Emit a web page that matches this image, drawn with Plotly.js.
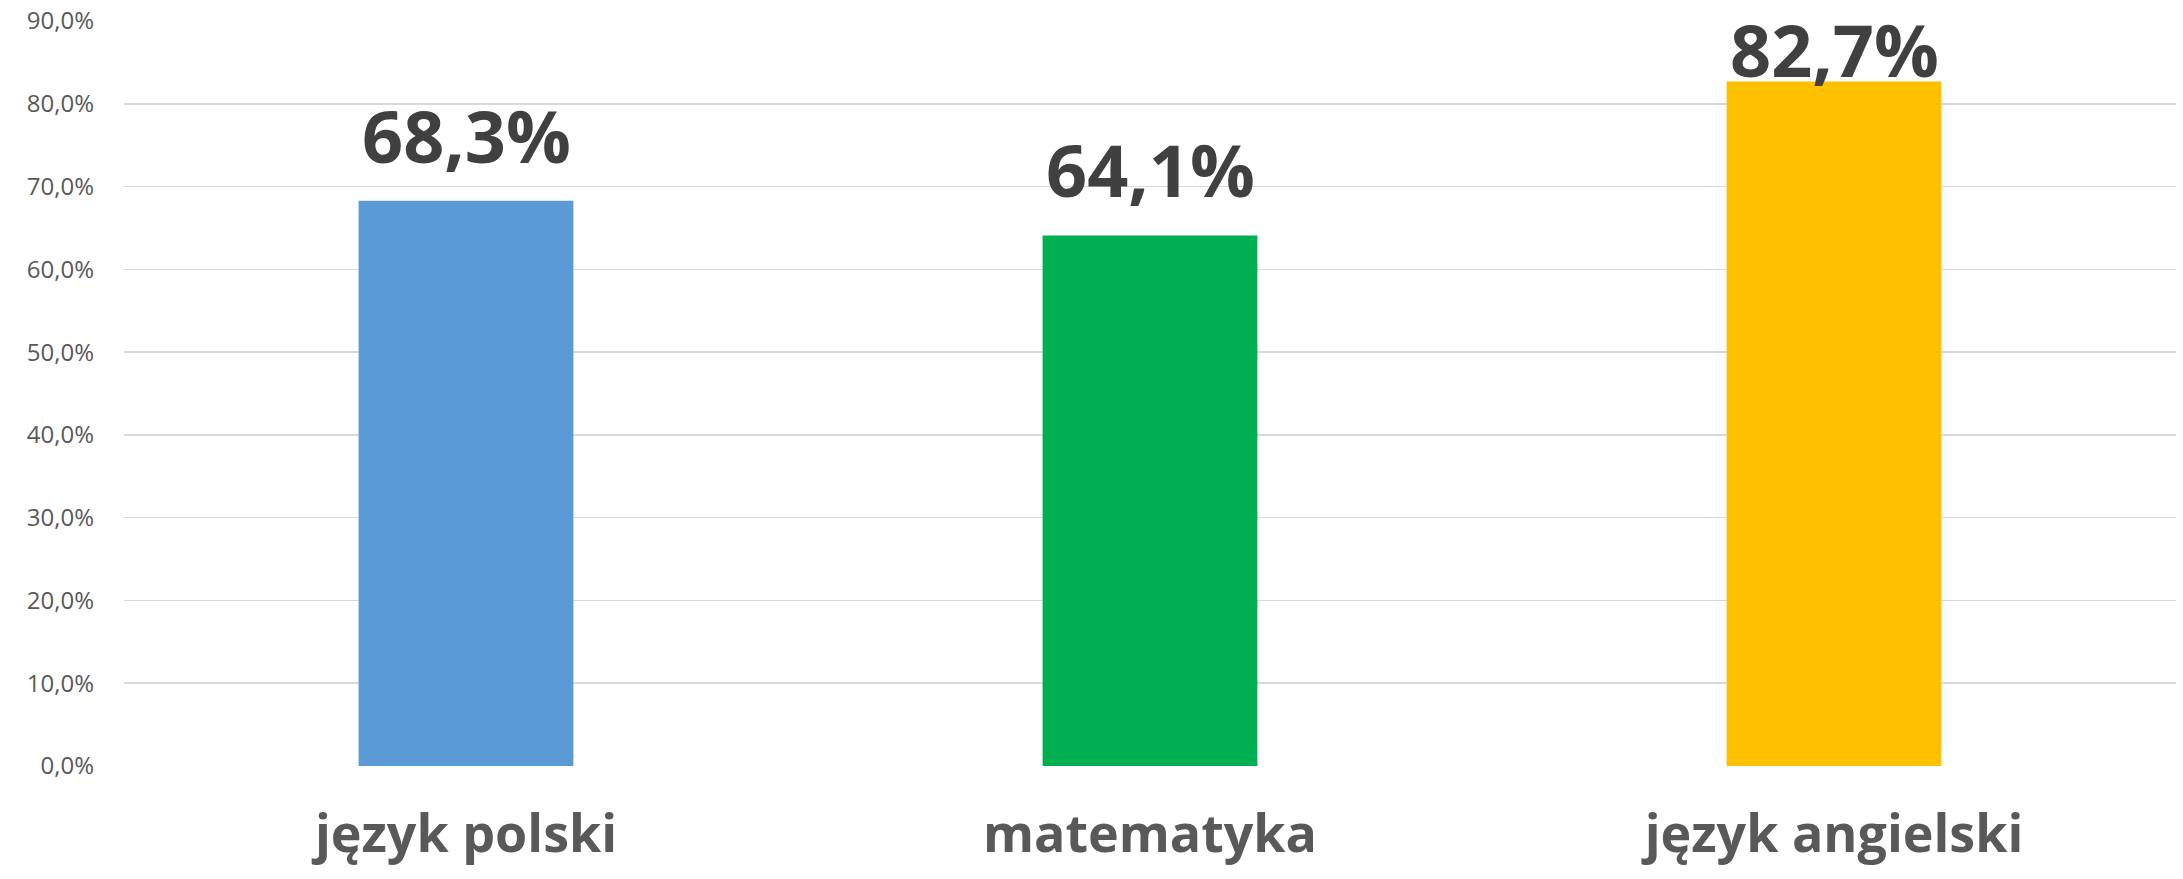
<!DOCTYPE html>
<html>
<head>
<meta charset="utf-8">
<script src="https://cdn.plot.ly/plotly-3.0.1.min.js"></script>
<style>html,body{margin:0;padding:0;background:#fff;}#chart{width:2183px;height:879px;}</style>
</head>
<body>
<div id="chart"></div>
<script>
const categories = ['język polski', 'matematyka', 'język angielski'];
const values = [68.3, 64.1, 82.7];
const barColors = ['#5B9BD5', '#00B050', '#FFC000'];
const yTickValues = [0, 10, 20, 30, 40, 50, 60, 70, 80, 90];

const W = 2183, H = 879;
const margin = {l: 124, r: 7, t: 21, b: 113};
const yMax = 90;
const pxPerUnit = (H - margin.t - margin.b) / yMax;
const labelSize = 72;
const labelBox = 1.362 * labelSize + 2;
const fmt = v => v.toFixed(1).replace('.', ',') + '%';
const yTickText = yTickValues.map(fmt);

const annotations = values.map((v, i) => {
  const maxShift = (yMax - v) * pxPerUnit + margin.t - labelBox;
  return {
    x: categories[i], y: v, xref: 'x', yref: 'y',
    text: fmt(v), showarrow: false, yanchor: 'bottom', xanchor: 'center',
    yshift: Math.min(15, maxShift),
    font: {family: 'Open Sans', size: labelSize, color: '#404040', weight: 'bold'}
  };
});

const trace = {
  type: 'bar', x: categories, y: values,
  marker: {color: barColors, line: {width: 0}},
  hoverinfo: 'none'
};

const layout = {
  width: W, height: H, margin: margin,
  paper_bgcolor: '#ffffff', plot_bgcolor: '#ffffff',
  separators: ', ',
  bargap: 0.686,
  showlegend: false,
  xaxis: {
    type: 'category', showgrid: false, zeroline: false, showline: false, ticks: '',
    ticklabelstandoff: 33,
    tickfont: {family: 'Open Sans', size: 52, color: '#595959', weight: 'bold'}
  },
  yaxis: {
    range: [0, yMax], tickmode: 'array', tickvals: yTickValues, ticktext: yTickText,
    showgrid: true, gridcolor: '#D9D9D9', gridwidth: 1.6,
    zeroline: false, showline: false, ticks: '',
    ticklabelstandoff: 29,
    tickfont: {family: 'Open Sans', size: 24, color: '#595959'}
  },
  annotations: annotations
};

Plotly.newPlot('chart', [trace], layout, {displayModeBar: false, staticPlot: true});
</script>
</body>
</html>
